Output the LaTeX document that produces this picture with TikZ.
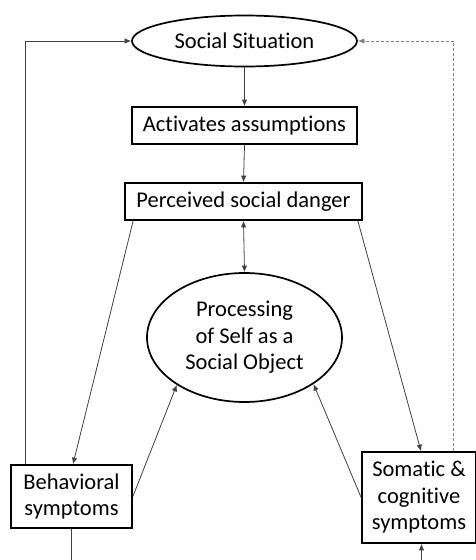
\documentclass[tikz,border=0pt]{standalone}
\usepackage{fontspec}
\setmainfont{Carlito}[Ligatures={NoCommon}]
\usetikzlibrary{shapes.geometric,arrows.meta}
\begin{document}
\begin{tikzpicture}[x=1pt,y=-1pt,
  txt/.style={font=\fontsize{22.5}{26.5}\selectfont, align=center, inner sep=0pt},
  boxnode/.style={txt, draw=black, line width=1.7pt, rectangle},
  ovalnode/.style={txt, draw=black, line width=1.7pt, ellipse},
  conn/.style={draw=black!75, line width=0.8pt, -{Latex[length=6.5pt,width=5.5pt]}},
  dconn/.style={draw=black!50, line width=0.9pt, dash pattern=on 3pt off 2pt, -{Latex[length=6.5pt,width=5.5pt]}},
  plain/.style={draw=black!75, line width=0.8pt}]
\useasboundingbox (0,0) rectangle (475,560);
\node[ovalnode, minimum width=225pt, minimum height=51pt] (ss) at (244.5,41) {Social Situation};
\node[boxnode, minimum width=225pt, minimum height=37pt] (act) at (244.5,125.5) {Activates assumptions};
\node[boxnode, minimum width=237pt, minimum height=37pt] (per) at (243.5,201.5) {Perceived social danger};
\node[ovalnode, minimum width=195pt, minimum height=129pt] (proc) at (244.5,337.5) {Processing\\of Self as a\\Social Object};
\node[boxnode, minimum width=121pt, minimum height=63pt] (beh) at (71.5,496.5) {Behavioral\\symptoms};
\node[boxnode, minimum width=114pt, minimum height=91pt] (som) at (419,497.5) {Somatic \&\\cognitive\\symptoms};
\coordinate (bo) at (71.5,565);
\coordinate (so) at (421.5,565);
\draw[conn] (ss.south) -- (act.north);
\draw[conn] (act.south) -- (per.north);
\draw[conn, {Latex[length=6.5pt,width=5.5pt]}-{Latex[length=6.5pt,width=5.5pt]}] (per.south) -- (proc.north);
\draw[conn] ([xshift=9pt]per.south west) -- ([xshift=1.5pt]beh.north);
\draw[conn] ([xshift=-5pt]per.south east) -- ([xshift=2pt]som.north);
\draw[conn] (beh.east) -- (proc.215);
\draw[conn] (som.west) -- (proc.-34);
\draw[conn] ([xshift=15pt]beh.north west) |- (ss.west);
\draw[dconn] ([xshift=-23pt]som.north east) |- (ss.east);
\draw[plain] (beh.south) -- (bo);
\draw[conn] (so) -- (so |- som.south);
\end{tikzpicture}
\end{document}
